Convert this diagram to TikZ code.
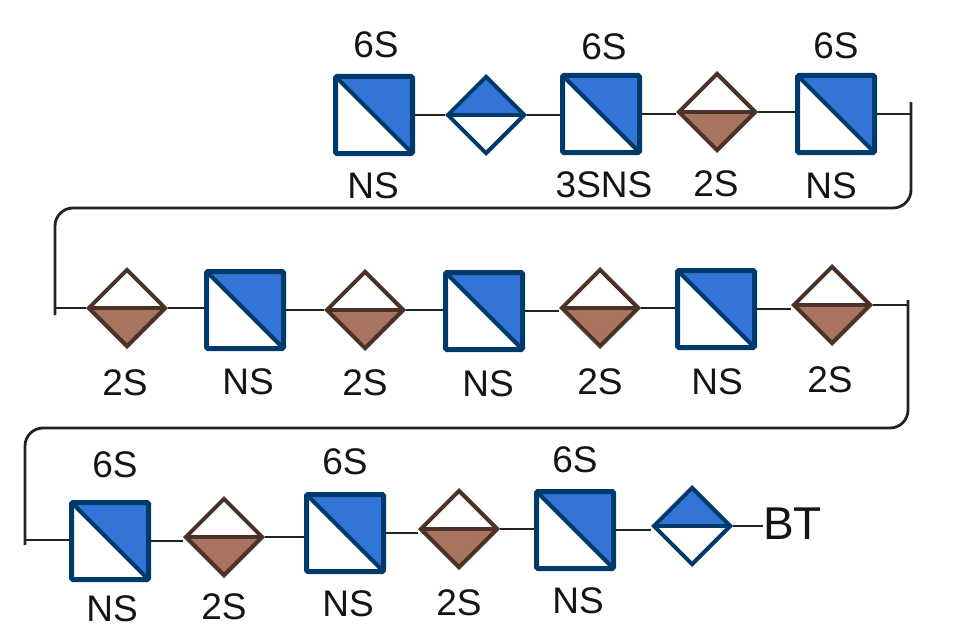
\documentclass[tikz,border=0pt]{standalone}
\usepackage{fontspec}
\setmainfont{Liberation Sans}
\usetikzlibrary{shapes.geometric}
\definecolor{bluefill}{HTML}{3375D6}
\definecolor{blueedge}{HTML}{003A6B}
\definecolor{brownfill}{HTML}{A87460}
\definecolor{brownedge}{HTML}{4A3226}
\definecolor{wire}{HTML}{222222}
\tikzset{
  sqbox/.style={rectangle, draw=blueedge, line width=5pt, minimum size=77pt, inner sep=0pt, fill=white, rounded corners=1.5pt,
    path picture={\fill[bluefill,sharp corners] (path picture bounding box.north west) -- (path picture bounding box.north east) -- (path picture bounding box.south east) -- cycle;
      \draw[blueedge,line width=4pt,sharp corners] (path picture bounding box.north west) -- (path picture bounding box.south east);}},
  bdia/.style={diamond, aspect=1, draw=blueedge, line width=4pt, minimum size=78pt, inner sep=0pt, fill=white,
    path picture={\fill[bluefill] (path picture bounding box.west) -- (path picture bounding box.north) -- (path picture bounding box.east) -- cycle;
      \draw[blueedge,line width=4pt] (path picture bounding box.west) -- (path picture bounding box.east);}},
  rdia/.style={diamond, aspect=1, draw=brownedge, line width=4pt, minimum size=78pt, inner sep=0pt, fill=white,
    path picture={\fill[brownfill] (path picture bounding box.west) -- (path picture bounding box.south) -- (path picture bounding box.east) -- cycle;
      \draw[brownedge,line width=4pt] (path picture bounding box.west) -- (path picture bounding box.east);}},
  lbl/.style={font=\fontsize{37}{42}\selectfont, inner sep=0pt, text=black!92},
  wirel/.style={draw=wire, line width=2.8pt},
}
\begin{document}
\begin{tikzpicture}[x=1pt,y=-1pt]
\useasboundingbox (0,0) rectangle (953,642);
% row 1
\node[sqbox] (a1) at (374,115) {};
\node[bdia] (a2) at (486,115) {};
\node[sqbox] (a3) at (601,114) {};
\node[rdia] (a4) at (717,112) {};
\node[sqbox] (a5) at (836,114) {};
% row 2
\node[rdia] (b1) at (127,308) {};
\node[sqbox] (b2) at (245,310) {};
\node[rdia] (b3) at (365,310) {};
\node[sqbox] (b4) at (484,311) {};
\node[rdia] (b5) at (600,308) {};
\node[sqbox] (b6) at (716,309) {};
\node[rdia] (b7) at (832,305) {};
% row 3
\node[sqbox] (c1) at (110,541) {};
\node[rdia] (c2) at (224,537) {};
\node[sqbox] (c3) at (345,533) {};
\node[rdia] (c4) at (459,529) {};
\node[sqbox] (c5) at (575,530) {};
\node[bdia] (c6) at (692,526) {};
\node[lbl, font=\fontsize{46}{50}\selectfont, anchor=west] (bt) at (763,524) {BT};
% labels
\node[lbl] (la1t) at (376,45) {6S};
\node[lbl] (la1b) at (373,186) {NS};
\node[lbl] (la3t) at (604,47) {6S};
\node[lbl] (la3b) at (604,185) {3SNS};
\node[lbl] (la4b) at (716,184) {2S};
\node[lbl] (la5t) at (836,46) {6S};
\node[lbl] (la5b) at (831,186) {NS};
\node[lbl] (lb1) at (125,383) {2S};
\node[lbl] (lb2) at (248,382) {NS};
\node[lbl] (lb3) at (365,383) {2S};
\node[lbl] (lb4) at (488,384) {NS};
\node[lbl] (lb5) at (600,382) {2S};
\node[lbl] (lb6) at (717,382) {NS};
\node[lbl] (lb7) at (830,380) {2S};
\node[lbl] (lc1t) at (115,465) {6S};
\node[lbl] (lc1b) at (112,609) {NS};
\node[lbl] (lc2) at (224,607) {2S};
\node[lbl] (lc3t) at (345,462) {6S};
\node[lbl] (lc3b) at (348,604) {NS};
\node[lbl] (lc4) at (459,603) {2S};
\node[lbl] (lc5t) at (575,460) {6S};
\node[lbl] (lc5b) at (578,601) {NS};
% connector turn points
\coordinate (p1) at (911,109);
\coordinate (p1t) at (911,102);
\coordinate (p2) at (55,308);
\coordinate (p2b) at (55,315);
\coordinate (q1) at (908,306);
\coordinate (q1t) at (908,300);
\coordinate (q2) at (25,540);
\coordinate (q2b) at (25,545);
% row 1 wires
\draw[wirel] (a1.east) -- (a1.east -| a2.west);
\draw[wirel] (a2.east) -- (a2.east -| a3.west);
\draw[wirel] (a3.east) -- (a3.east -| a4.west);
\draw[wirel] (a4.east) -- (a4.east -| a5.west);
\draw[wirel] (a5.east) -- (a5.east -| p1);
\draw[wirel, rounded corners=18pt] (p1t) -- (911,208) -- (55,208) -- (p2b);
\draw[wirel] (p2) -- (p2 -| b1.west);
% row 2 wires
\draw[wirel] (b1.east) -- (b1.east -| b2.west);
\draw[wirel] (b2.east) -- (b2.east -| b3.west);
\draw[wirel] (b3.east) -- (b3.east -| b4.west);
\draw[wirel] (b4.east) -- (b4.east -| b5.west);
\draw[wirel] (b5.east) -- (b5.east -| b6.west);
\draw[wirel] (b6.east) -- (b6.east -| b7.west);
\draw[wirel] (b7.east) -- (b7.east -| q1);
\draw[wirel, rounded corners=18pt] (q1t) -- (908,428) -- (25,428) -- (q2b);
\draw[wirel] (q2) -- (q2 -| c1.west);
% row 3 wires
\draw[wirel] (c1.east) -- (c1.east -| c2.west);
\draw[wirel] (c2.east) -- (c2.east -| c3.west);
\draw[wirel] (c3.east) -- (c3.east -| c4.west);
\draw[wirel] (c4.east) -- (c4.east -| c5.west);
\draw[wirel] (c5.east) -- (c5.east -| c6.west);
\draw[wirel] (c6.east) -- (c6.east -| bt.west);
\end{tikzpicture}
\end{document}
